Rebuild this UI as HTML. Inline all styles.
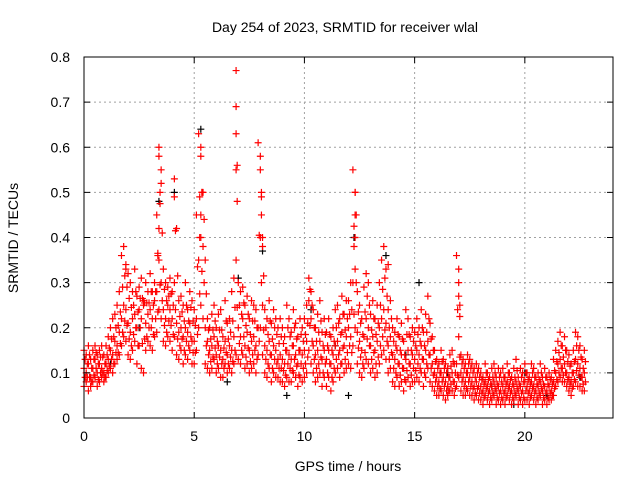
<!DOCTYPE html>
<html><head><meta charset="utf-8"><style>
body{margin:0;background:#fff;width:640px;height:480px;overflow:hidden}
svg text{font-family:"Liberation Sans",sans-serif;font-size:14px;fill:#000}
</style></head><body>
<svg id="chart" width="640" height="480">
<text x="345" y="32" text-anchor="middle">Day 254 of 2023, SRMTID for receiver wlal</text>
<text x="348" y="471" text-anchor="middle">GPS time / hours</text>
<text transform="translate(18,238) rotate(-90)" text-anchor="middle">SRMTID / TECUs</text>
<g id="grid"></g><g id="marks"></g><g id="axes"></g>
</svg>
<script>
const xTicks=[0,5,10,15,20];
const yTicks=[0,0.1,0.2,0.3,0.4,0.5,0.6,0.7,0.8];
const yTickLabels=["0","0.1","0.2","0.3","0.4","0.5","0.6","0.7","0.8"];
const tStart=0, tStep=0.1;
const midVals=[.11,.10,.12,.09,.11,.13,.10,.12,.11,.10,
.12,.13,.15,.14,.17,.16,.19,.22,.25,.24,
.21,.19,.22,.23,.20,.24,.22,.25,.21,.23,
.24,.22,.26,.28,.35,.30,.24,.22,.25,.24,
.22,.30,.21,.19,.20,.18,.20,.19,.21,.17,
.17,.22,.35,.40,.38,.20,.17,.15,.16,.18,
.14,.16,.15,.13,.17,.14,.16,.15,.18,.35,
.20,.18,.22,.16,.19,.15,.17,.18,.16,.20,
.40,.25,.16,.15,.17,.14,.16,.15,.13,.14,
.13,.12,.15,.14,.13,.16,.14,.12,.15,.14,
.15,.17,.26,.22,.16,.14,.15,.17,.13,.15,
.13,.15,.12,.14,.16,.17,.15,.19,.16,.18,
.20,.18,.30,.40,.19,.17,.15,.18,.22,.20,
.16,.18,.15,.17,.20,.22,.24,.21,.16,.18,
.14,.13,.15,.12,.14,.11,.13,.15,.12,.14,
.13,.15,.14,.16,.13,.15,.17,.14,.12,.10,
.09,.08,.10,.09,.08,.07,.09,.10,.08,.12,
.18,.10,.09,.08,.10,.09,.08,.07,.08,.07,
.07,.06,.08,.07,.06,.07,.08,.06,.07,.06,
.07,.06,.08,.07,.06,.07,.08,.06,.07,.06,
.08,.07,.06,.08,.07,.06,.07,.08,.06,.07,
.06,.07,.06,.08,.10,.12,.13,.11,.12,.10,
.09,.08,.10,.13,.12,.11,.09,.10];
const upVals=[.15,.14,.16,.13,.15,.16,.14,.15,.16,.14,
.16,.18,.20,.22,.23,.25,.28,.36,.38,.34,
.32,.30,.28,.33,.27,.29,.31,.26,.30,.28,
.32,.28,.30,.45,.60,.52,.33,.30,.29,.31,
.28,.53,.42,.26,.27,.25,.30,.24,.28,.26,
.24,.45,.63,.60,.50,.35,.22,.20,.23,.25,
.20,.23,.24,.18,.26,.21,.22,.28,.31,.77,
.30,.28,.29,.25,.27,.22,.26,.25,.24,.61,
.58,.38,.24,.22,.26,.21,.24,.22,.20,.22,
.20,.18,.25,.22,.19,.24,.21,.18,.22,.20,
.22,.25,.31,.28,.24,.20,.23,.26,.19,.22,
.19,.22,.18,.20,.24,.25,.22,.27,.23,.26,
.26,.30,.55,.50,.28,.25,.22,.29,.32,.30,
.23,.26,.22,.25,.30,.35,.38,.33,.24,.26,
.20,.19,.22,.18,.21,.17,.24,.22,.18,.20,
.19,.22,.20,.24,.19,.23,.27,.21,.18,.15,
.13,.12,.15,.13,.12,.11,.14,.15,.12,.36,
.27,.14,.13,.12,.14,.13,.12,.11,.12,.11,
.10,.09,.12,.10,.09,.11,.12,.09,.11,.10,
.11,.09,.12,.10,.09,.11,.13,.09,.11,.10,
.12,.10,.09,.12,.11,.09,.10,.12,.09,.11,
.09,.10,.09,.13,.15,.17,.19,.16,.18,.15,
.14,.12,.15,.19,.18,.16,.13,.15];
const lowVals=[.07,.08,.06,.07,.08,.09,.07,.08,.09,.08,
.09,.10,.11,.10,.12,.13,.14,.16,.18,.17,
.14,.13,.15,.17,.12,.16,.11,.10,.15,.17,
.16,.15,.18,.19,.24,.22,.17,.16,.18,.17,
.15,.18,.14,.13,.15,.12,.14,.13,.15,.12,
.12,.15,.20,.25,.22,.12,.11,.10,.11,.13,
.10,.11,.09,.09,.12,.10,.11,.10,.12,.14,
.13,.12,.14,.11,.12,.10,.11,.12,.10,.14,
.20,.14,.10,.09,.11,.08,.10,.09,.09,.08,
.08,.07,.09,.08,.08,.10,.09,.07,.09,.08,
.09,.10,.15,.12,.10,.08,.09,.10,.07,.09,
.07,.09,.06,.08,.10,.11,.09,.12,.10,.11,
.12,.11,.16,.20,.12,.10,.09,.11,.13,.12,
.10,.11,.09,.10,.12,.14,.15,.13,.10,.11,
.08,.07,.09,.07,.08,.06,.08,.09,.07,.08,
.08,.09,.08,.10,.07,.09,.11,.08,.07,.06,
.05,.05,.06,.05,.04,.05,.06,.06,.05,.07,
.09,.06,.05,.05,.06,.05,.05,.04,.05,.04,
.04,.03,.05,.04,.03,.04,.05,.03,.04,.03,
.04,.03,.05,.04,.03,.04,.05,.03,.04,.03,
.04,.04,.03,.05,.04,.03,.04,.05,.03,.04,
.03,.04,.04,.05,.07,.08,.09,.08,.08,.07,
.06,.05,.07,.08,.07,.07,.06,.06];
const spikeTimes=[3.4,3.5,3.45,3.4,3.35,5.3,5.35,5.3,5.25,6.9,6.9,6.9,6.95,8.0,8.05,8.05,8.1,12.3,12.3,12.25,12.3,4.1,17.0,17.0,17.05,13.8,1.9];
const spikeVals=[.58,.55,.50,.42,.36,.58,.50,.45,.40,.69,.63,.55,.48,.55,.50,.45,.40,.50,.45,.38,.33,.49,.33,.30,.25,.34,.33];
const blackTimes=[5.3,3.4,4.1,12.25,8.1,7.0,13.7,20.0,19.5,9.2,12.0,6.5,15.2,2.5,10.3,18.5,21.0,16.5,1.2,22.5,11.4,14.6];
const blackVals=[.64,.48,.50,.40,.37,.31,.36,.10,.03,.05,.05,.08,.30,.20,.24,.07,.05,.10,.12,.09,.16,.14];

const X0=84,X1=613,Y0=418,Y1=57;
const xs=t=>X0+(t/24)*(X1-X0);
const ys=v=>Y0-(v/0.8)*(Y0-Y1);
const NS="http://www.w3.org/2000/svg";
function mk(tag,attrs,parent){const e=document.createElementNS(NS,tag);for(const k in attrs)e.setAttribute(k,attrs[k]);parent.appendChild(e);return e;}
const grid=document.getElementById('grid'),axes=document.getElementById('axes'),marks=document.getElementById('marks');
xTicks.forEach(t=>{const x=xs(t);
 if(t>0){const g=mk('line',{x1:x,x2:x,y1:Y1,y2:Y0,stroke:'#a0a0a0','stroke-dasharray':'2,3'},grid);
 
 }
 mk('line',{x1:x,x2:x,y1:Y0,y2:Y0-6,stroke:'#000'},axes);
 mk('line',{x1:x,x2:x,y1:Y1,y2:Y1+6,stroke:'#000'},axes);
 const l=mk('text',{x:x,y:Y0+23,'text-anchor':'middle'},axes);l.textContent=t;
 
 
});
yTicks.forEach((v,i)=>{const y=ys(v);
 if(i>0&&i<yTicks.length-1){const g=mk('line',{x1:X0,x2:X1,y1:y,y2:y,stroke:'#a0a0a0','stroke-dasharray':'2,3'},grid);
 
 }
 mk('line',{x1:X0,x2:X0+6,y1:y,y2:y,stroke:'#000'},axes);
 mk('line',{x1:X1,x2:X1-6,y1:y,y2:y,stroke:'#000'},axes);
 const l=mk('text',{x:X0-14,y:y+5,'text-anchor':'end'},axes);l.textContent=yTickLabels[i];
 
 
});
const fr=mk('rect',{x:X0,y:Y1,width:X1-X0,height:Y0-Y1,fill:'none',stroke:'#000'},axes);


function plus(t,v,color,name){const x=xs(t),y=ys(v);
 const p=mk('path',{d:`M${x-3.5},${y}H${x+3.5}M${x},${y-3.5}V${y+3.5}`,stroke:color,'stroke-width':1.2,fill:'none'},marks);
 
 }
blackTimes.forEach((t,i)=>plus(t,blackVals[i],'#000','black-point'));
[midVals,upVals,lowVals].forEach(arr=>arr.forEach((v,i)=>plus(tStart+i*tStep,v,'#ff0000','srmtid-point')));
midVals.forEach((v,i)=>plus(tStart+i*tStep+0.05,(v+upVals[i])/2,'#ff0000','srmtid-point'));
lowVals.forEach((v,i)=>plus(tStart+i*tStep+0.05,(v+midVals[i])/2,'#ff0000','srmtid-point'));
spikeTimes.forEach((t,i)=>plus(t,spikeVals[i],'#ff0000','spike-point'));
</script>
</body></html>
